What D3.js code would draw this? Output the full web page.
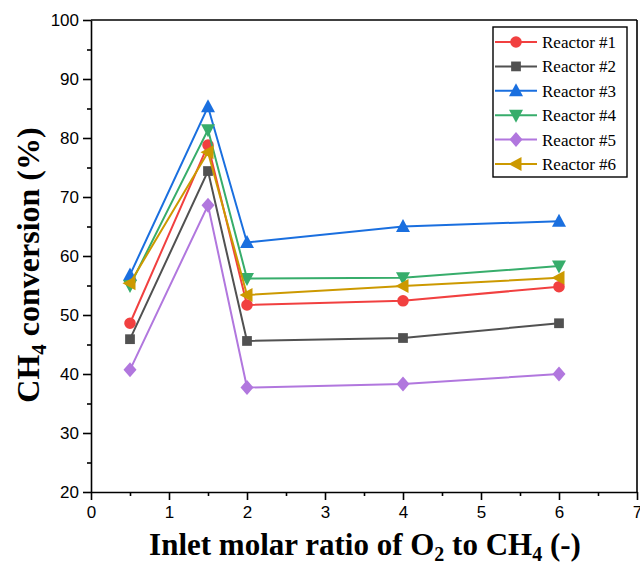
<!DOCTYPE html>
<html>
<head>
<meta charset="utf-8">
<script src="https://cdn.jsdelivr.net/npm/d3@7"></script>
<style>
body{margin:0;background:#fff;}
svg{display:block;}
</style>
</head>
<body>
<svg id="chart" width="640" height="566"></svg>
<script>
const ratios = [0.5, 1.5, 2, 4, 6];
const seriesNames = ["Reactor #1","Reactor #2","Reactor #3","Reactor #4","Reactor #5","Reactor #6"];
const reactor1 = [48.6, 78.8, 51.7, 52.4, 54.8];
const reactor2 = [45.9, 74.4, 45.6, 46.1, 48.6];
const reactor3 = [56.8, 85.3, 62.3, 65.0, 65.9];
const reactor4 = [55.0, 81.4, 56.2, 56.3, 58.3];
const reactor5 = [40.7, 68.6, 37.7, 38.3, 40.0];
const reactor6 = [55.4, 77.6, 53.4, 54.9, 56.3];
const xTicks = [0,1,2,3,4,5,6,7];
const yTicks = [20,30,40,50,60,70,80,90,100];

const allValues = [reactor1,reactor2,reactor3,reactor4,reactor5,reactor6];
const colors = ["#F14040","#515151","#1A6FDF","#37AD6B","#B177DE","#CC9900"];
const shapes = ["circle","square","triUp","triDown","diamond","triLeft"];

const svg = d3.select("#chart");
const L=91, R=637, T=20, B=492;
const x = d3.scaleLinear().domain([0,7]).range([L,R]);
const y = d3.scaleLinear().domain([20,100]).range([B,T]);

function markerPath(shape){
  switch(shape){
    case "circle": return d3.symbol(d3.symbolCircle, 105)();
    case "square": return d3.symbol(d3.symbolSquare, 95)();
    case "diamond": return "M0,-7.5L6.5,0L0,7.5L-6.5,0Z";
    case "triUp": return "M0,-7.5L7,5.5L-7,5.5Z";
    case "triDown": return "M0,7.5L7,-5.5L-7,-5.5Z";
    case "triLeft": return "M-7.5,0L5.5,-7L5.5,7Z";
  }
}

// frame
svg.append("line").attr("x1",L).attr("x2",R).attr("y1",T).attr("y2",T).attr("stroke","#000").attr("stroke-width",1.6);
svg.append("line").attr("x1",R).attr("x2",R).attr("y1",T).attr("y2",B).attr("stroke","#000").attr("stroke-width",1.6);

// axes
const xMinor = d3.range(0.5,7,1);
const yMinor = d3.range(25,100,10);
const gx = svg.append("g").attr("transform",`translate(0,${B})`);
gx.call(d3.axisBottom(x).tickValues(xMinor).tickSize(4).tickFormat(""));
gx.call(g=>g.selectAll(".domain").remove());
const gx2 = svg.append("g").attr("transform",`translate(0,${B})`)
  .call(d3.axisBottom(x).tickValues(xTicks).tickSize(8).tickSizeOuter(0).tickPadding(4).tickFormat(d3.format("d")));
const gy = svg.append("g").attr("transform",`translate(${L},0)`);
gy.call(d3.axisLeft(y).tickValues(yMinor).tickSize(4).tickFormat(""));
gy.call(g=>g.selectAll(".domain").remove());
const gy2 = svg.append("g").attr("transform",`translate(${L},0)`)
  .call(d3.axisLeft(y).tickValues(yTicks).tickSize(8).tickSizeOuter(0).tickPadding(4));
[gx,gx2,gy,gy2].forEach(g=>{
  g.selectAll("path,line").attr("stroke","#000").attr("stroke-width",1.6);
  g.selectAll("text").attr("fill","#000").style("font-family","'Liberation Sans', Arial, sans-serif").style("font-size","17px");
});
gx2.selectAll("text").attr("dy","0.85em");
gy2.selectAll("text").attr("dy","0.35em");

// series
const line = d3.line().x((d,i)=>x(ratios[i])).y(d=>y(d));
allValues.forEach((vals,k)=>{
  const g = svg.append("g");
  g.append("path").attr("d",line(vals)).attr("fill","none").attr("stroke",colors[k]).attr("stroke-width",2);
  g.selectAll("path.m").data(vals).enter().append("path").attr("class","m")
    .attr("d",markerPath(shapes[k]))
    .attr("transform",(d,i)=>`translate(${x(ratios[i])},${y(d)})`)
    .attr("fill",colors[k]);
});

// legend
const lg = svg.append("g");
lg.append("rect").attr("x",493).attr("y",27).attr("width",134).attr("height",150)
  .attr("fill","#fff").attr("stroke","#000").attr("stroke-width",1.4);
seriesNames.forEach((n,k)=>{
  const yy = 42 + k*24.4;
  lg.append("line").attr("x1",495).attr("x2",537).attr("y1",yy).attr("y2",yy).attr("stroke",colors[k]).attr("stroke-width",2);
  lg.append("path").attr("d",markerPath(shapes[k])).attr("transform",`translate(516,${yy})`).attr("fill",colors[k]);
  lg.append("text").attr("x",542).attr("y",yy).attr("dy","0.35em").text(n)
    .style("font-family","'Liberation Serif','Times New Roman',serif").style("font-size","17px").attr("fill","#000");
});

// axis titles
const xt = svg.append("text").attr("x",365).attr("y",555).attr("text-anchor","middle")
  .style("font-family","'Liberation Serif','Times New Roman',serif").style("font-size","31px").style("font-weight","bold");
xt.append("tspan").text("Inlet molar ratio of O");
xt.append("tspan").text("2").attr("dy",6).style("font-size","20px");
xt.append("tspan").text(" to CH").attr("dy",-6);
xt.append("tspan").text("4").attr("dy",6).style("font-size","20px");
xt.append("tspan").text(" (-)").attr("dy",-6);

const yt = svg.append("text").attr("transform","translate(39,265) rotate(-90)").attr("text-anchor","middle")
  .style("font-family","'Liberation Serif','Times New Roman',serif").style("font-size","32px").style("font-weight","bold");
yt.append("tspan").text("CH");
yt.append("tspan").text("4").attr("dy",7).style("font-size","21px");
yt.append("tspan").text(" conversion (%)").attr("dy",-7);
</script>
</body>
</html>
